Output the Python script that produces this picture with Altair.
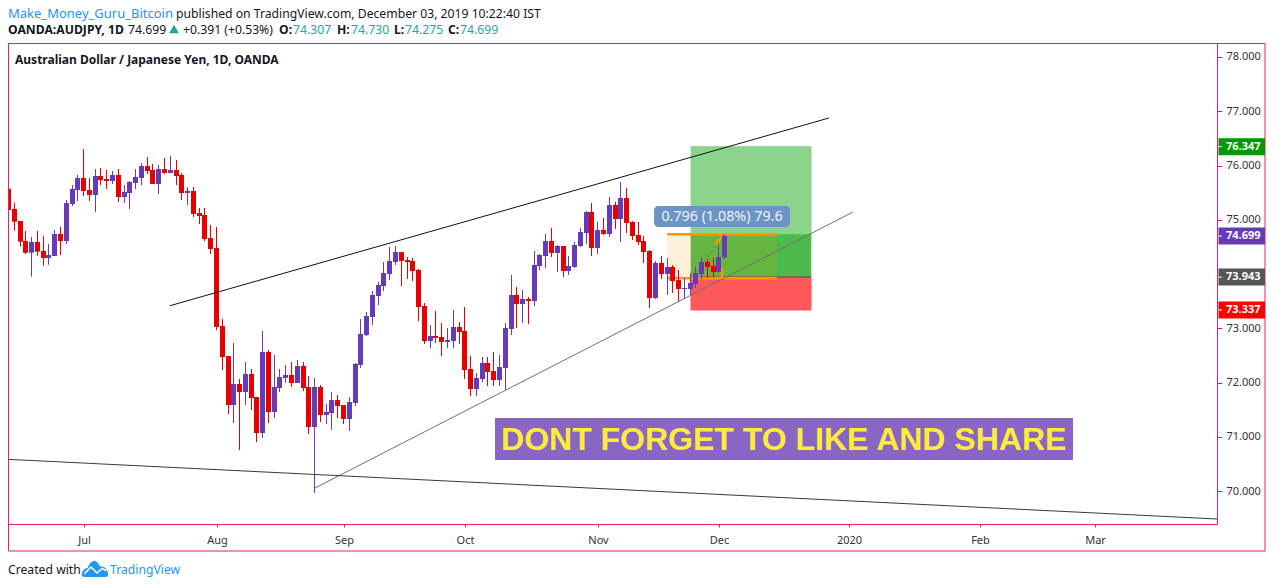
import altair as alt
import pandas as pd

opens = [75.57,75.198,74.977,74.608,74.393,74.590,74.424,74.295,74.332,74.737,
74.608,75.290,75.548,75.769,75.548,75.456,75.806,75.751,75.714,75.825,
75.419,75.493,75.677,75.769,75.990,75.917,75.659,75.935,75.861,75.917,
75.825,75.493,75.530,75.124,75.087,74.663,74.479,73.041,72.488,71.585,
71.973,71.825,72.157,71.733,71.069,72.562,71.456,71.899,72.083,72.138,
71.991,72.304,71.917,71.180,71.917,71.401,71.438,71.678,71.585,71.327,
71.622,72.323,72.876,73.207,73.594,73.779,74.000,74.221,74.405,74.258,
74.240,74.074,73.410,72.765,72.857,72.839,72.747,72.765,73.023,72.949,
72.249,71.880,72.065,72.360,72.212,72.046,72.267,72.986,73.613,73.447,
73.539,73.502,74.148,74.332,74.608,74.387,74.516,74.055,74.129,74.516,
74.756,75.143,74.479,74.811,74.737,75.272,75.014,75.401,74.959,74.719,
74.608,74.424,73.558,74.203,74.000,74.129,73.889,73.724,73.724,73.816,
74.000,74.221,74.148,74.037,74.307]
highs = [75.61,75.315,74.977,74.792,74.682,74.792,74.700,74.553,74.811,74.866,
75.364,75.640,75.825,76.304,75.769,75.935,75.954,75.917,75.898,75.935,
75.640,75.714,75.935,76.046,76.156,76.027,76.009,76.138,76.175,76.101,
75.861,75.603,75.603,75.216,75.216,74.903,74.866,73.170,72.488,72.728,
72.065,72.378,72.249,71.733,72.949,72.599,72.507,72.249,72.323,72.378,
72.415,72.378,72.120,72.083,71.954,71.604,71.825,71.770,71.585,71.733,
72.360,73.171,73.300,73.687,73.853,74.221,74.498,74.516,74.405,74.313,
74.295,74.092,73.465,73.060,73.318,73.097,73.005,73.336,73.115,73.392,
72.489,72.175,72.470,72.470,72.562,72.507,73.097,73.982,73.760,73.705,
73.576,74.424,74.369,74.737,74.848,74.535,74.516,74.332,74.590,74.848,
75.161,75.309,74.959,75.032,75.419,75.327,75.696,75.585,74.977,74.959,
74.700,74.442,74.240,74.332,74.295,74.166,74.074,73.926,74.019,74.129,
74.313,74.277,74.295,74.535,74.730]
lows = [75.16,74.799,74.504,74.368,73.951,74.338,74.153,74.172,74.332,74.350,
74.553,75.253,75.345,75.437,75.345,75.143,75.640,75.567,75.659,75.327,
75.308,75.198,75.567,75.640,75.843,75.659,75.474,75.843,75.861,75.640,
75.364,75.272,75.050,74.921,74.608,74.368,72.968,72.230,71.419,71.253,
70.756,71.585,71.493,70.903,70.977,71.254,71.346,71.825,71.991,71.917,
71.991,71.843,71.051,69.963,71.272,71.235,71.125,71.346,71.235,71.106,
71.567,72.267,72.857,73.060,73.429,73.687,73.889,74.166,73.779,73.908,
73.871,73.134,72.710,72.636,72.728,72.489,72.636,72.636,72.710,72.065,
71.751,71.751,72.009,71.936,71.936,71.936,71.862,72.876,73.005,73.097,
73.078,73.410,74.074,74.111,74.313,74.037,73.945,73.982,74.111,74.498,
74.553,74.332,74.369,74.719,74.682,74.830,74.590,74.756,74.627,74.535,
74.203,73.373,73.539,73.908,73.613,73.650,73.484,73.558,73.613,73.742,
73.908,73.926,73.945,74.037,74.275]
closes = [75.18,74.964,74.596,74.393,74.590,74.411,74.295,74.350,74.737,74.608,
75.308,75.567,75.769,75.530,75.456,75.806,75.732,75.714,75.825,75.419,
75.511,75.696,75.788,75.990,75.898,75.659,75.935,75.861,75.917,75.806,
75.493,75.530,75.106,75.069,74.645,74.461,73.023,72.470,71.585,71.972,
71.825,72.157,71.714,71.069,72.562,71.456,71.917,72.101,72.138,71.991,
72.304,71.899,71.180,71.917,71.401,71.456,71.678,71.567,71.327,71.641,
72.341,72.894,73.226,73.613,73.797,74.018,74.240,74.405,74.240,74.221,
74.055,73.392,72.765,72.857,72.820,72.747,72.783,73.023,72.931,72.231,
71.880,72.083,72.360,72.194,72.046,72.286,73.005,73.613,73.447,73.539,
73.502,74.166,74.350,74.608,74.387,74.516,74.055,74.148,74.535,74.774,
75.143,74.479,74.811,74.737,75.272,75.014,75.401,74.940,74.700,74.590,
74.406,73.558,74.203,74.000,74.129,73.871,73.724,73.742,73.834,74.019,
74.221,74.129,74.037,74.313,74.699]

month_pos = [13.1, 36.1, 58.1, 79.1, 102.1, 123.1, 145.6, 168.3, 188.2]
month_lab = ["Jul", "Aug", "Sep", "Oct", "Nov", "Dec", "2020", "Feb", "Mar"]
price_ticks = [70, 71, 72, 73, 75, 76, 77, 78]

trend_upper = ([28.05, 142.1], [73.416, 76.876])
trend_lower = ([53.06, 146.3], [70.046, 75.143])
trend_bottom = ([0, 209.3], [70.584, 69.484])

target, entry, stop, last = 76.347, 73.943, 73.337, 74.699
range_top, range_bottom = 74.732, 73.92
pos_x = (118.25, 139.0)
range_x = (114.1, 133.1)

PINK = "#e8205f"
RED = "#e80000"
PURPLE = "#673ab7"
FONT = "Noto Sans"
XS = alt.Scale(domain=[0, 209.3], nice=False, zero=False, round=True, padding=0)
YS = alt.Scale(domain=[69.392, 78.258], nice=False, zero=False)

df = pd.DataFrame({"i": range(len(opens)), "o": opens, "h": highs, "l": lows, "c": closes})
df["col"] = [PURPLE if c >= o else RED for o, c in zip(opens, closes)]

X = alt.X("i:Q", scale=XS, axis=alt.Axis(
    orient="bottom", values=month_pos, title=None, grid=False, domain=False,
    tickColor=PINK, tickSize=3, labelPadding=7, labelColor="#333333", labelFont=FONT, labelFontSize=11,
    labelFlush=False, labelOverlap=False,
    labelExpr="{" + ",".join(f"'{p}':'{m}'" for p, m in zip(month_pos, month_lab)) + "}[''+datum.value]"))
Y = alt.Y("h:Q", scale=YS, axis=alt.Axis(
    orient="right", values=price_ticks, title=None, grid=False, domain=False, format=".3f",
    tickColor=PINK, tickSize=5, labelPadding=4, labelColor="#333333", labelFont=FONT, labelFontSize=11,
    labelOverlap=False))

def xe(field):
    return alt.X(field, scale=XS)

def ye(field):
    return alt.Y(field, scale=YS)

def zone(x0, x1, y0, y1, color, opacity, edge=False):
    d = pd.DataFrame({"a": [x0], "b": [x1], "u": [y0], "v": [y1]})
    kw = {"stroke": color, "strokeWidth": 1} if edge else {}
    return alt.Chart(d).mark_rect(color=color, opacity=opacity, **kw).encode(
        x=xe("a:Q"), x2="b:Q", y=ye("u:Q"), y2="v:Q")

def seg(xs, ys, color, width=1.0, dash=None, opacity=1.0):
    d = pd.DataFrame({"a": xs, "u": ys})
    kw = {"strokeDash": dash} if dash else {}
    return alt.Chart(d).mark_line(color=color, strokeWidth=width, opacity=opacity, **kw).encode(
        x=xe("a:Q"), y=ye("u:Q"))

def text(t, px, py, size=12, color="#131722", weight="normal", align="left", font=FONT):
    return alt.Chart(alt.Data(values=[{"t": t}])).mark_text(
        align=align, baseline="middle", fontSize=size, color=color, fontWeight=weight, font=font
    ).encode(x=alt.value(px - 8), y=alt.value(py - 43), text="t:N")

def box(x0, x1, y0, y1, color, radius=0):
    return alt.Chart(alt.Data(values=[{}])).mark_rect(color=color, cornerRadius=radius).encode(
        x=alt.value(x0 - 8), x2=alt.value(x1 - 8), y=alt.value(y0 - 43), y2=alt.value(y1 - 43))

layers = []
# invisible carrier of both axes, so that they are kept when the layers merge
layers.append(alt.Chart(df).mark_point(opacity=0).encode(x=X, y=Y))
# long-position tool
layers.append(zone(pos_x[0], pos_x[1], target, entry, "#50bd50", 0.65, edge=True))
layers.append(zone(pos_x[0], pos_x[1], range_top, entry, "#22aa22", 0.6))
layers.append(zone(pos_x[0], pos_x[1], entry, stop, "#ff3b3b", 0.85, edge=True))
layers.append(zone(range_x[0], range_x[1], range_top, range_bottom, "#ff9800", 0.15))
layers.append(seg(list(pos_x), [entry, entry], "#555555", 1.0))
layers.append(seg(list(range_x), [range_top, range_top], "#ff9800", 2.5))
layers.append(seg(list(range_x), [range_bottom, range_bottom], "#ff9800", 2.5))
layers.append(seg([119.3, 122.6], [74.037, 74.516], "#777777", 1.0, dash=[3, 3]))
layers.append(seg([122.4, 123.8], [74.553, 74.70], "#ff9800", 2.5))
layers.append(seg([123.6, 123.6], [range_bottom, 74.11], "#ff9800", 2.5))

# candles
wick = alt.Chart(df).mark_rule(strokeWidth=1, xOffset=0.5).encode(
    x=xe("i:Q"), y=ye("h:Q"), y2="l:Q", color=alt.Color("col:N", scale=None))
body = alt.Chart(df).mark_bar(size=5, xOffset=0.5).encode(
    x=xe("i:Q"), y=ye("o:Q"), y2="c:Q", color=alt.Color("col:N", scale=None))
layers += [wick, body]

# trend lines
layers.append(seg(*trend_upper, "#111111", 1.0))
layers.append(seg(*trend_lower, "#707070", 1.0))
layers.append(seg(*trend_bottom, "#222222", 0.9))

# measure label
layers.append(box(654, 790, 206, 227, "#6c94c6", 4))
layers.append(text("0.796 (1.08%) 79.6", 722, 216.5, 14.3, "#f0f4fa", align="center"))

# banner
layers.append(box(495, 1073, 418, 460, "#8965c4"))
layers.append(text("DONT FORGET TO LIKE AND SHARE", 783.7, 440, 32, "#ffeb3b", "bold", "center", "Liberation Sans"))

# chrome frame
layers.append(alt.Chart(alt.Data(values=[{}])).mark_rect(
    fillOpacity=0, stroke=PINK, strokeWidth=1, xOffset=0.5, yOffset=0.5).encode(
    x=alt.value(0), x2=alt.value(1257), y=alt.value(0), y2=alt.value(508)))

# price tags
for val, col in [(target, "#009900"), (last, PURPLE), (entry, "#555555"), (stop, "#ff0000")]:
    d = pd.DataFrame({"u": [val], "lab": [f"{val:.3f}"]})
    layers.append(alt.Chart(d).mark_rect(color=col, xOffset=0.5, x=1210, x2=1257, height=17).encode(y=ye("u:Q")))
    layers.append(alt.Chart(d).mark_rule(color="#ffffff", xOffset=0.5, strokeWidth=1, x=1210, x2=1214).encode(y=ye("u:Q")))
    layers.append(alt.Chart(d).mark_text(align="left", baseline="middle", font=FONT, fontSize=11,
                                         fontWeight="bold", color="#ffffff", x=1218).encode(y=ye("u:Q"), text="lab:N"))

# header text
layers.append(text("Make_Money_Guru_Bitcoin", 8, 13.5, 13, "#2196f3"))
layers.append(text("published on TradingView.com, December 03, 2019 10:22:40 IST", 176, 13.5, 12.2))
layers.append(text("OANDA:AUDJPY, 1D", 8, 29.5, 12.2, weight="bold"))
layers.append(text("74.699", 128, 29.5, 12.2))
layers.append(alt.Chart(alt.Data(values=[{}])).mark_point(
    shape="triangle-up", filled=True, color="#26a69a", opacity=1, size=100).encode(
    x=alt.value(174 - 8), y=alt.value(29 - 43)))
layers.append(text("+0.391 (+0.53%)", 183, 29.5, 12.2))
for lab, lx, val, vx in [("O:", 279, "74.307", 293), ("H:", 337, "74.730", 351),
                         ("L:", 394, "74.275", 405), ("C:", 448, "74.699", 460)]:
    layers.append(text(lab, lx, 29.5, 12.2, weight="bold"))
    layers.append(text(val, vx, 29.5, 12.2, "#26a69a"))
layers.append(text("Australian Dollar / Japanese Yen, 1D, OANDA", 15, 60, 12, weight="bold"))

# footer
layers.append(text("Created with", 8, 570, 12.2))
layers.append(alt.Chart(alt.Data(values=[{}])).mark_point(
    shape="M-1,0.45 C-1,0.1 -0.75,-0.05 -0.55,-0.1 C-0.4,-0.45 -0.25,-0.6 -0.05,-0.6 C0.15,-0.6 0.3,-0.4 0.35,-0.2 "
          "C0.7,-0.25 0.95,0 1,0.45 C1,0.55 0.9,0.6 0.8,0.6 L-0.8,0.6 C-0.9,0.6 -1,0.55 -1,0.45 Z",
    filled=True, color="#2196f3", opacity=1, size=700).encode(x=alt.value(95 - 8), y=alt.value(569 - 43)))
layers.append(alt.Chart(alt.Data(values=[{}])).mark_point(
    shape="M-0.8,0.35 L-0.3,-0.15 L0.15,0.3 L0.55,-0.05 L0.85,0.15",
    filled=False, stroke="#ffffff", strokeWidth=1.5, opacity=1, size=700).encode(x=alt.value(95 - 8), y=alt.value(569 - 43)))
layers.append(text("TradingView", 110, 570, 12.2, "#2196f3"))

chart = alt.layer(*layers).properties(
    width=1209, height=481,
    padding={"left": 0, "top": 35, "right": 49, "bottom": 54},
    autosize=alt.AutoSizeParams(type="none"),
    background="#ffffff",
).configure_view(stroke=PINK, strokeWidth=1)

chart.save("out.html", embed_options={"renderer": "svg", "actions": False})
